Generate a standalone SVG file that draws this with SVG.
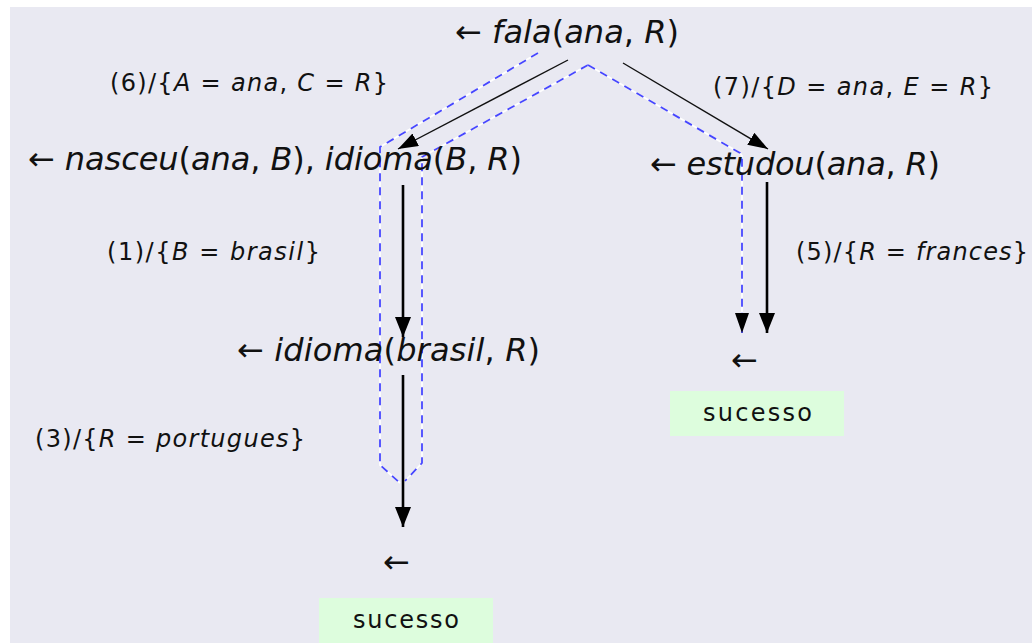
<svg xmlns="http://www.w3.org/2000/svg" width="1032" height="643" viewBox="0 0 1032 643">
  <style>
    .big { font-family: "DejaVu Sans", "Liberation Sans", sans-serif; font-size: 32px; fill: #111; }
    .lbl { font-family: "DejaVu Sans", "Liberation Sans", sans-serif; font-size: 24px; fill: #111; }
    .it { font-style: italic; }
    .ar { font-family: "DejaVu Sans", sans-serif; font-style: normal; }
    .ok { font-family: "DejaVu Sans", "Liberation Sans", sans-serif; font-size: 24px; fill: #111; }
    .box { fill: #ddfddd; }
    .thin { stroke: #111; stroke-width: 1.4; fill: none; }
    .thick { stroke: #000; stroke-width: 2.6; fill: none; }
    .under { stroke: #ffffff; stroke-width: 1.8; fill: none; }
    .trace { stroke: #4646ff; stroke-width: 1.8; fill: none; stroke-dasharray: 8 6; }
  </style>
  <defs>
    <marker id="headThin" markerUnits="userSpaceOnUse" viewBox="0 0 20 14" refX="20" refY="7" markerWidth="20" markerHeight="14" orient="auto">
      <path d="M0,0 L20,7 L0,14 Z" fill="#000"/>
    </marker>
    <marker id="headThick" markerUnits="userSpaceOnUse" viewBox="0 0 20 16" refX="20" refY="8" markerWidth="20" markerHeight="16" orient="auto">
      <path d="M0,0 L20,8 L0,16 Z" fill="#000"/>
    </marker>
    <marker id="headTrace" markerUnits="userSpaceOnUse" viewBox="0 0 20 14" refX="20" refY="7" markerWidth="20" markerHeight="14" orient="auto">
      <path d="M0,0 L20,7 L0,14 Z" fill="#000"/>
    </marker>
  </defs>

  <!-- page -->
  <rect x="0" y="0" width="1032" height="643" fill="#ffffff"/>
  <rect x="10" y="7" width="1022" height="636" fill="#e9e9f2"/>

  <!-- connectors -->
  <g id="connectors">
    <!-- search trace (dashed) -->
    <g id="trace">
      <path class="under" d="M538,53 L380,147 L380,465 L400,483"/>
      <path class="trace" d="M538,53 L380,147 L380,465 L400,483"/>
      <path class="under" d="M588,65 L422,157 L422,463 L405,481"/>
      <path class="trace" d="M588,65 L422,157 L422,463 L405,481"/>
      <path class="under" d="M588,65 L740,153 L742,156 L742,318"/>
      <path class="trace" d="M588,65 L740,153 L742,156 L742,333" marker-end="url(#headTrace)"/>
    </g>
    <line class="thin" x1="568" y1="60" x2="398" y2="149" marker-end="url(#headThin)"/>
    <line class="thin" x1="623" y1="63" x2="768" y2="149" marker-end="url(#headThin)"/>
    <line class="thick" x1="403" y1="185" x2="403" y2="337" marker-end="url(#headThick)"/>
    <line class="thick" x1="403" y1="375" x2="403" y2="527" marker-end="url(#headThick)"/>
    <line class="thick" x1="767" y1="182" x2="767" y2="333" marker-end="url(#headThick)"/>
  </g>

  <!-- goals -->
  <g id="goal-fala">
    <text class="big" x="455" y="43" textLength="224"><tspan class="ar">←</tspan> <tspan class="it">fala</tspan>(<tspan class="it">ana</tspan>, <tspan class="it">R</tspan>)</text>
  </g>
  <g id="goal-nasceu">
    <text class="big" x="28" y="170" textLength="494"><tspan class="ar">←</tspan> <tspan class="it">nasceu</tspan>(<tspan class="it">ana</tspan>, <tspan class="it">B</tspan>), <tspan class="it">idioma</tspan>(<tspan class="it">B</tspan>, <tspan class="it">R</tspan>)</text>
  </g>
  <g id="goal-estudou">
    <text class="big" x="650" y="175" textLength="290"><tspan class="ar">←</tspan> <tspan class="it">estudou</tspan>(<tspan class="it">ana</tspan>, <tspan class="it">R</tspan>)</text>
  </g>
  <g id="goal-idioma">
    <text class="big" x="237" y="361" textLength="303"><tspan class="ar">←</tspan> <tspan class="it">idioma</tspan>(<tspan class="it">brasil</tspan>, <tspan class="it">R</tspan>)</text>
  </g>

  <!-- substitution labels -->
  <g id="label-6">
    <text class="lbl" x="110" y="91" textLength="278">(6)/{<tspan class="it">A</tspan> = <tspan class="it">ana</tspan>, <tspan class="it">C</tspan> = <tspan class="it">R</tspan>}</text>
  </g>
  <g id="label-7">
    <text class="lbl" x="713" y="95" textLength="280">(7)/{<tspan class="it">D</tspan> = <tspan class="it">ana</tspan>, <tspan class="it">E</tspan> = <tspan class="it">R</tspan>}</text>
  </g>
  <g id="label-1">
    <text class="lbl" x="107" y="260" textLength="213">(1)/{<tspan class="it">B</tspan> = <tspan class="it">brasil</tspan>}</text>
  </g>
  <g id="label-5">
    <text class="lbl" x="796" y="260" textLength="232">(5)/{<tspan class="it">R</tspan> = <tspan class="it">frances</tspan>}</text>
  </g>
  <g id="label-3">
    <text class="lbl" x="35" y="447" textLength="270">(3)/{<tspan class="it">R</tspan> = <tspan class="it">portugues</tspan>}</text>
  </g>

  <!-- empty goals and success marks -->
  <g id="empty-right">
    <text class="ar" x="731" y="371" font-size="32" fill="#111">←</text>
  </g>
  <g id="success-right">
    <rect class="box" x="670" y="391" width="174" height="45"/>
    <text class="ok" x="703" y="421" textLength="109">sucesso</text>
  </g>
  <g id="empty-left">
    <text class="ar" x="383" y="573" font-size="32" fill="#111">←</text>
  </g>
  <g id="success-left">
    <rect class="box" x="319" y="598" width="174" height="45"/>
    <text class="ok" x="353" y="628" textLength="106">sucesso</text>
  </g>
</svg>
